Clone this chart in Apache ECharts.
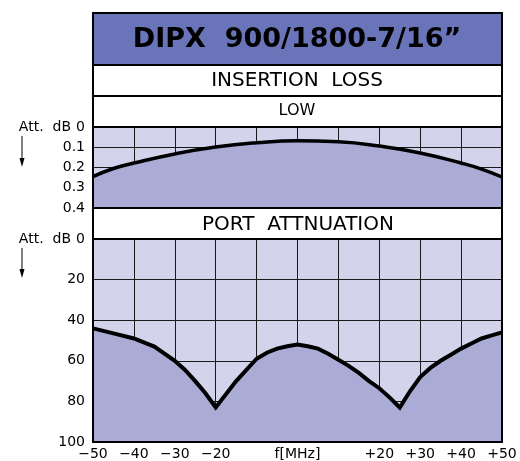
<!DOCTYPE html>
<html>
<head>
    <title>DIPX 900/1800-7/16</title>
    <style>
        body {
            margin: 0;
            background: #fff;
        }

        #chart {
            width: 520px;
            height: 461px;
        }
    </style>
    <script src="https://cdn.jsdelivr.net/npm/echarts@6/dist/echarts.min.js"></script>
</head>
<body>
    <div id="chart"></div>

    <script>
        // frequency offsets (MHz) and readings taken off the plot
        var lossFreq = [-50, -45, -40, -30, -20, -10, 0, 10, 20, 30, 40, 45, 50];
        var lossDb = [0.245, 0.205, 0.178, 0.133, 0.099, 0.078, 0.068, 0.073, 0.094, 0.128, 0.178, 0.208, 0.247];

        var attFreq = [-50, -45, -40, -35, -30, -27.5, -25, -22.5, -20, -15, -10, -7.5, -5, -2.5, 0,
            2.5, 5, 7.5, 10, 12.5, 15, 17.5, 20, 22.5, 25, 27.5, 30, 32.5, 35, 37.5, 40, 42.5, 45, 47.5, 50];
        var attDb = [44, 46.5, 49, 53, 60, 64.5, 70, 76, 83, 70, 59, 56, 54, 52.8, 52,
            52.8, 54, 56.5, 59.5, 62.5, 66, 70, 73.5, 78, 83, 75, 68, 63.5, 60, 57, 54, 51.5, 49, 47.5, 46];

        var xTicks = [-50, -40, -30, -20, -10, 0, 10, 20, 30, 40, 50];
        var xTickLabels = ['\u221250', '\u221240', '\u221230', '\u221220', '', 'f[MHz]', '', '+20', '+30', '+40', '+50'];
        // the loss ticks are split in two sets so the 20px spacing is not thinned out
        var lossTicksEven = [0, 0.2, 0.4];
        var lossTicksOdd = [0.1, 0.3];
        var lossTickLabels = ['0', '0.1', '0.2', '0.3', '0.4'];
        var attTicks = [0, 20, 40, 60, 80, 100];
        var attTickLabels = ['0', '20', '40', '60', '80', '100'];
        var unitLabel = 'Att.  dB';

        var light = '#d3d4ec';
        var dark = '#aaacd6';
        var font = 'DejaVu Sans';

        function pairs(xs, ys) {
            return xs.map(function (x, i) {
                return [x, ys[i]];
            });
        }

        function xLabel(v) {
            var i = xTicks.indexOf(v);
            return i < 0 ? '' : xTickLabels[i];
        }

        var chart = echarts.init(document.getElementById('chart'));

        var grids = [
            { left: 93, top: 127, width: 409, height: 81, show: true, backgroundColor: light, borderWidth: 0, outerBoundsMode: 'none', containLabel: false },
            { left: 93, top: 239, width: 409, height: 203, show: true, backgroundColor: light, borderWidth: 0, outerBoundsMode: 'none', containLabel: false }
        ];

        function xAxisFor(idx, showLabels) {
            return {
                type: 'value', gridIndex: idx, min: -50, max: 50, interval: 10, position: 'bottom',
                axisLine: { show: false, onZero: false }, axisTick: { show: false },
                splitLine: { show: true, lineStyle: { color: '#1a1a1a', width: 1 } },
                axisLabel: {
                    show: showLabels, margin: 6, color: '#000', fontFamily: font, fontSize: 14, lineHeight: 13,
                    showMinLabel: true, showMaxLabel: true, hideOverlap: false,
                    formatter: xLabel
                }
            };
        }

        function yAxisFor(idx, max, step, ticks, labels, grid) {
            return {
                type: 'value', gridIndex: idx, min: 0, max: max, interval: step, inverse: true, position: 'left',
                axisLine: { show: false, onZero: false }, axisTick: { show: false },
                splitLine: { show: grid, lineStyle: { color: '#1a1a1a', width: 1 } },
                axisLabel: {
                    margin: 8, color: '#000', fontFamily: font, fontSize: 14, lineHeight: 11,
                    showMinLabel: true, showMaxLabel: true, hideOverlap: false,
                    customValues: ticks,
                    formatter: function (v) { return labels[Math.round(v / step)]; }
                }
            };
        }

        function unitText(y) {
            return { type: 'text', x: 71, y: y, style: { text: unitLabel, fill: '#000', font: '14px "DejaVu Sans"', align: 'right', verticalAlign: 'middle' }, z: 6 };
        }

        var option = {
            animation: false,
            grid: grids,
            xAxis: [xAxisFor(0, false), xAxisFor(1, true)],
            yAxis: [
                yAxisFor(0, 0.4, 0.1, lossTicksEven, lossTickLabels, true),
                yAxisFor(1, 100, 20, attTicks, attTickLabels, true),
                yAxisFor(0, 0.4, 0.1, lossTicksOdd, lossTickLabels, false)
            ],
            series: [
                {
                    type: 'line', xAxisIndex: 0, yAxisIndex: 0, smooth: true, symbol: 'none',
                    data: pairs(lossFreq, lossDb),
                    lineStyle: { color: '#000', width: 3.5 },
                    areaStyle: { color: dark, opacity: 1, origin: 'end' },
                    z: 1
                },
                {
                    type: 'line', xAxisIndex: 1, yAxisIndex: 1, symbol: 'none',
                    data: pairs(attFreq, attDb),
                    lineStyle: { color: '#000', width: 4, join: 'miter' },
                    areaStyle: { color: dark, opacity: 1, origin: 'end' },
                    z: 1
                }
            ],
            graphic: [
                // header boxes
                { type: 'rect', shape: { x: 93, y: 13, width: 409, height: 52 }, style: { fill: '#6a74b9' }, z: 5 },
                { type: 'text', x: 297, y: 40, style: { text: 'DIPX  900/1800-7/16\u201d', fill: '#000', font: 'bold 27px "DejaVu Sans"', align: 'center', verticalAlign: 'middle' }, z: 6 },
                { type: 'text', x: 297, y: 81, style: { text: 'INSERTION  LOSS', fill: '#000', font: '20px "DejaVu Sans"', align: 'center', verticalAlign: 'middle' }, z: 6 },
                { type: 'text', x: 297, y: 111, style: { text: 'LOW', fill: '#000', font: '16px "DejaVu Sans"', align: 'center', verticalAlign: 'middle' }, z: 6 },
                { type: 'text', x: 298, y: 225, style: { text: 'PORT  ATTNUATION', fill: '#000', font: '20px "DejaVu Sans"', align: 'center', verticalAlign: 'middle' }, z: 6 },
                unitText(127),
                unitText(239),
                // frame and separators
                { type: 'rect', shape: { x: 93, y: 13, width: 409, height: 429 }, style: { fill: 'none', stroke: '#000', lineWidth: 2 }, z: 10 },
                { type: 'line', shape: { x1: 93, y1: 65, x2: 502, y2: 65 }, style: { stroke: '#000', lineWidth: 2 }, z: 10 },
                { type: 'line', shape: { x1: 93, y1: 96, x2: 502, y2: 96 }, style: { stroke: '#000', lineWidth: 2 }, z: 10 },
                { type: 'line', shape: { x1: 93, y1: 127, x2: 502, y2: 127 }, style: { stroke: '#000', lineWidth: 2 }, z: 10 },
                { type: 'line', shape: { x1: 93, y1: 208, x2: 502, y2: 208 }, style: { stroke: '#000', lineWidth: 2 }, z: 10 },
                { type: 'line', shape: { x1: 93, y1: 239, x2: 502, y2: 239 }, style: { stroke: '#000', lineWidth: 2 }, z: 10 },
                // arrows under "Att."
                { type: 'line', shape: { x1: 22, y1: 136, x2: 22, y2: 160 }, style: { stroke: '#000', lineWidth: 1 }, z: 10 },
                { type: 'polygon', shape: { points: [[19.5, 158], [24.5, 158], [22, 167]] }, style: { fill: '#000' }, z: 10 },
                { type: 'line', shape: { x1: 22, y1: 248, x2: 22, y2: 271 }, style: { stroke: '#000', lineWidth: 1 }, z: 10 },
                { type: 'polygon', shape: { points: [[19.5, 269], [24.5, 269], [22, 278]] }, style: { fill: '#000' }, z: 10 }
            ]
        };

        chart.setOption(option);
    </script>
</body>
</html>
